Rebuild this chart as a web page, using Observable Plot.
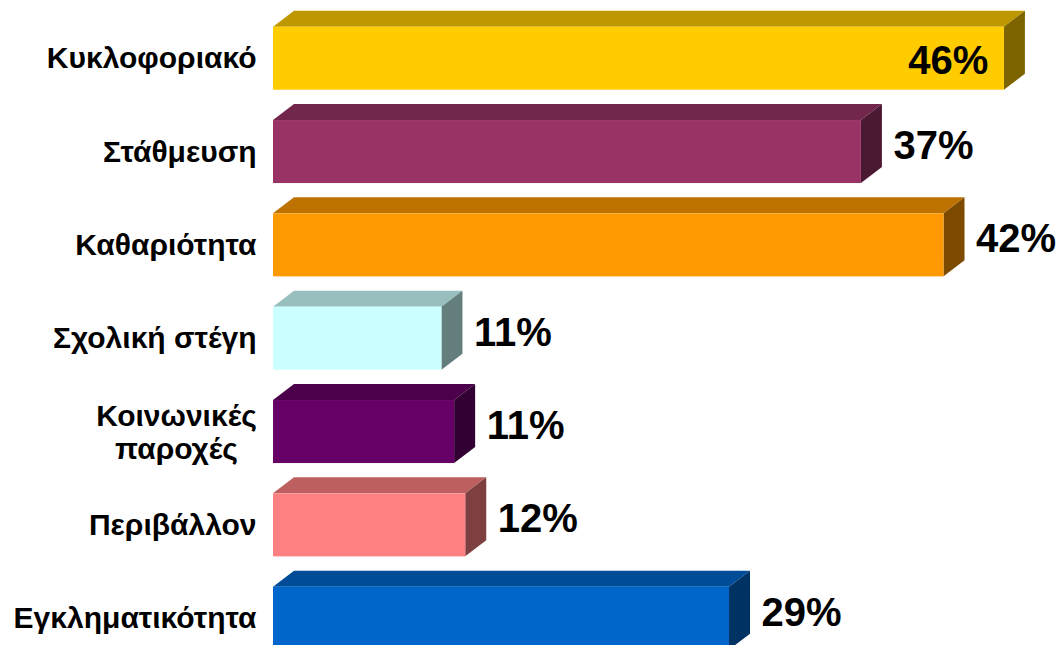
<!DOCTYPE html>
<html>
<head>
<meta charset="utf-8">
<script src="https://cdn.jsdelivr.net/npm/d3@7"></script>
<script src="https://cdn.jsdelivr.net/npm/@observablehq/plot@0.6"></script>
<style>
  html, body { margin: 0; padding: 0; background: #ffffff; overflow: hidden; }
  #chart { width: 1060px; height: 645px; }
</style>
</head>
<body>
<div id="chart"></div>
<script>
// ---- data ----
const categories = ["Κυκλοφοριακό", "Στάθμευση", "Καθαριότητα", "Σχολική στέγη", "Κοινωνικές\nπαροχές", "Περιβάλλον", "Εγκληματικότητα"];
const values = [46, 37, 42.2, 10.6, 11.4, 12.1, 28.7];
const valueLabels = ["46%", "37%", "42%", "11%", "11%", "12%", "29%"];
const frontColors = ["#FFCC00", "#993366", "#FF9900", "#CCFFFF", "#660066", "#FF8080", "#0066CC"];

const rows = categories.map((c, i) => ({
  category: c,
  value: values[i],
  label: valueLabels[i],
  front: frontColors[i],
  top: d3.color(frontColors[i]).darker(0.83).formatHex(),
  side: d3.color(frontColors[i]).darker(2).formatHex(),
  multiline: c.includes("\n"),
  inside: values[i] > 44
}));

// depth of the 3D effect (px)
const DX = 21, DY = 16;
const FONT = "'Liberation Sans', Arial, Helvetica, sans-serif";

// custom mark drawing the top and side faces of each 3D bar using Plot's scales
function faces(index, scales) {
  const x = scales.x, y = scales.y;
  const bw = typeof y.bandwidth === "function" ? y.bandwidth() : 63;
  const g = d3.create("svg:g");
  for (const r of rows) {
    const x0 = x(0), x1 = x(r.value), y0 = y(r.category), y1 = y0 + bw;
    g.append("path")
      .attr("d", `M${x0},${y0}L${x1},${y0}L${x1 + DX},${y0 - DY}L${x0 + DX},${y0 - DY}Z`)
      .attr("fill", r.top);
    g.append("path")
      .attr("d", `M${x1},${y0}L${x1 + DX},${y0 - DY}L${x1 + DX},${y1 - DY}L${x1},${y1}Z`)
      .attr("fill", r.side);
  }
  return g.node();
}

const plot = Plot.plot({
  width: 1060,
  height: 645,
  marginLeft: 273,
  marginRight: 0,
  marginTop: 0,
  marginBottom: 0,
  style: { fontFamily: FONT, background: "#ffffff", overflow: "hidden" },
  x: { domain: [0, 49.53], axis: null },
  y: { domain: categories, range: [26.7, 649.7], paddingInner: 0.325, paddingOuter: 0, round: false, axis: null },
  marks: [
    faces,
    Plot.barX(rows, { x1: 0, x2: "value", y: "category", fill: "front" }),
    // value labels
    Plot.text(rows.filter(r => r.inside), {
      x: "value", y: "category", text: "label", textAnchor: "end", dx: -16, dy: 2,
      fontSize: 40, fontWeight: "bold", fill: "#000000"
    }),
    Plot.text(rows.filter(r => !r.inside), {
      x: "value", y: "category", text: "label", textAnchor: "start", dx: DX + 11, dy: -6,
      fontSize: 40, fontWeight: "bold", fill: "#000000"
    }),
    // category labels
    Plot.text(rows.filter(r => !r.multiline), {
      x: 0, y: "category", text: "category", textAnchor: "end", dx: -17,
      fontSize: 30, fontWeight: "bold", fill: "#000000"
    }),
    Plot.text(rows.filter(r => r.multiline), {
      x: 0, y: "category", text: "category", textAnchor: "middle", dx: -97, lineHeight: 1.1,
      fontSize: 30, fontWeight: "bold", fill: "#000000"
    })
  ]
});

document.getElementById("chart").appendChild(plot);
</script>
</body>
</html>
